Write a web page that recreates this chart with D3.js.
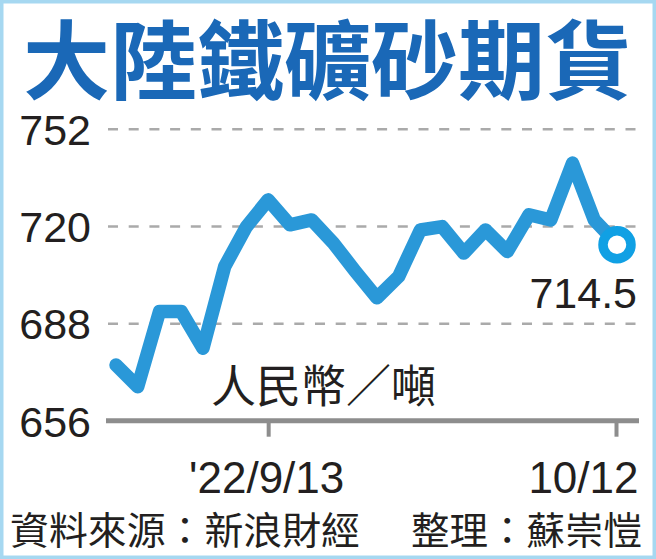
<!DOCTYPE html>
<html>
<head>
<meta charset="utf-8">
<script src="https://cdn.jsdelivr.net/npm/d3@7"></script>
<style>
  body { margin: 0; background: #fff; }
  svg { display: block; }
</style>
</head>
<body>
<div id="chart"></div>
<script>
// data
const dates = ["9/1","9/2","9/5","9/6","9/7","9/8","9/9","9/13","9/14","9/15","9/16","9/19",
  "9/20","9/21","9/22","9/23","9/26","9/27","9/28","9/29","9/30","10/10","10/11","10/12"];
const prices = [674.3, 667.2, 691.9, 691.9, 679.8, 706.7, 719.8, 728.6, 720.4, 722.0, 714.4, 705.2,
  696.4, 703.4, 718.7, 719.8, 711.1, 718.7, 711.6, 723.7, 722.0, 740.7, 722.0, 714.5];
const yTicks = [656, 688, 720, 752];
const xTickDates = ["9/13", "10/12"];
const xTickLabels = ["'22/9/13", "10/12"];

const width = 656, height = 559;
const blue = "#2a98d8";
const numFont = "'Liberation Sans', Arial, sans-serif";
const cjkFont = "'Noto Sans CJK TC', 'Noto Sans CJK SC', sans-serif";

const svg = d3.select("#chart").append("svg")
  .attr("width", width)
  .attr("height", height)
  .attr("viewBox", [0, 0, width, height]);

// light blue frame
svg.append("rect")
  .attr("x", 1.75).attr("y", 1.75)
  .attr("width", width - 3.5).attr("height", height - 3.5)
  .attr("fill", "#fff")
  .attr("stroke", "#a6d8f1")
  .attr("stroke-width", 3.5);

// title
svg.append("text")
  .attr("x", 23).attr("y", 93)
  .attr("textLength", 609)
  .attr("lengthAdjust", "spacingAndGlyphs")
  .attr("font-family", cjkFont)
  .attr("font-weight", 700)
  .attr("font-size", 86)
  .attr("fill", "#1a68b7")
  .text("大陸鐵礦砂期貨");

const x = d3.scalePoint(dates, [116, 616]);
const y = d3.scaleLinear([656, 752], [420.7, 128.7]);

// y axis + dashed grid
svg.append("g")
  .attr("transform", "translate(108,0)")
  .call(d3.axisLeft(y).tickValues(yTicks).tickSize(-530).tickPadding(17))
  .call(g => g.select(".domain").remove())
  .call(g => g.selectAll(".tick line")
    .attr("stroke", "#aaa")
    .attr("stroke-width", 2.5)
    .attr("stroke-dasharray", "10,10.7")
    .attr("display", d => d === 656 ? "none" : null))
  .call(g => g.selectAll(".tick text")
    .attr("font-family", numFont)
    .attr("font-size", 43)
    .attr("fill", "#231f20")
    .attr("dy", "0.36em"));

// x axis
svg.append("line")
  .attr("x1", 106).attr("x2", 639)
  .attr("y1", y(656)).attr("y2", y(656))
  .attr("stroke", "#8d8d8d")
  .attr("stroke-width", 5);

svg.append("g")
  .attr("transform", `translate(0,${y(656)})`)
  .call(d3.axisBottom(x).tickValues(xTickDates).tickSize(16)
    .tickFormat((d, i) => xTickLabels[i]))
  .call(g => g.select(".domain").remove())
  .call(g => g.selectAll(".tick line")
    .attr("stroke", "#8d8d8d")
    .attr("stroke-width", 4))
  .call(g => g.selectAll(".tick text")
    .attr("font-family", numFont)
    .attr("font-size", 44)
    .attr("fill", "#231f20")
    .attr("y", 72)
    .attr("dy", null)
    .attr("text-anchor", (d, i) => i === xTickDates.length - 1 ? "end" : "middle")
    .attr("x", (d, i) => i === xTickDates.length - 1 ? 22 : -2));

// unit
svg.append("text")
  .attr("x", 211).attr("y", 403)
  .attr("font-family", cjkFont)
  .attr("font-size", 45)
  .attr("fill", "#231f20")
  .text("人民幣／噸");

// price line
const line = d3.line()
  .x((d, i) => x(dates[i]))
  .y(d => y(d));

svg.append("path")
  .datum(prices)
  .attr("fill", "none")
  .attr("stroke", blue)
  .attr("stroke-width", 13.5)
  .attr("stroke-linejoin", "round")
  .attr("stroke-linecap", "round")
  .attr("d", line);

// last point marker
const lastI = prices.length - 1;
svg.append("circle")
  .attr("cx", x(dates[lastI]) + 1)
  .attr("cy", y(prices[lastI]) + 2)
  .attr("r", 14)
  .attr("fill", "#fff")
  .attr("stroke", "#10a0e4")
  .attr("stroke-width", 9.5);

svg.append("text")
  .attr("x", 637).attr("y", 308)
  .attr("text-anchor", "end")
  .attr("font-family", numFont)
  .attr("font-size", 43)
  .attr("fill", "#231f20")
  .text(d3.format(".1f")(prices[lastI]));

// footer
svg.append("text")
  .attr("x", 10).attr("y", 544)
  .attr("textLength", 350)
  .attr("lengthAdjust", "spacingAndGlyphs")
  .attr("font-family", cjkFont)
  .attr("font-size", 38)
  .attr("fill", "#231f20")
  .text("資料來源：新浪財經");

svg.append("text")
  .attr("x", 411).attr("y", 544)
  .attr("textLength", 231)
  .attr("lengthAdjust", "spacingAndGlyphs")
  .attr("font-family", cjkFont)
  .attr("font-size", 38)
  .attr("fill", "#231f20")
  .text("整理：蘇崇愷");
</script>
</body>
</html>
